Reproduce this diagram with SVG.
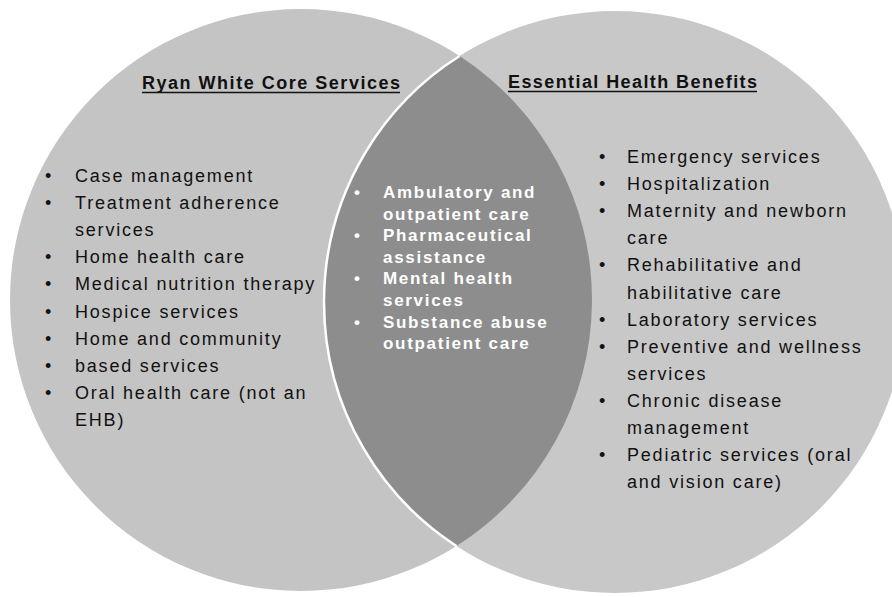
<svg xmlns="http://www.w3.org/2000/svg" width="892" height="597" viewBox="0 0 892 597">
<style>
.item{font-family:"Liberation Sans",Arial,sans-serif;font-size:18px;letter-spacing:1.8px;fill:#111}
.mid{font-family:"Liberation Sans",Arial,sans-serif;font-size:17px;font-weight:bold;letter-spacing:1.7px;fill:#fff}
.title{font-family:"Liberation Sans",Arial,sans-serif;font-size:18px;font-weight:bold;fill:#111}
.ul{stroke:#111;stroke-width:1.6}
</style>
<rect width="892" height="597" fill="#fff"/>
<g id="ryan-white">
<circle cx="301" cy="300" r="291" fill="#c4c4c4"/>
</g>
<g id="ehb">
<circle cx="615" cy="302" r="291" fill="#c8c8c8"/>
</g>
<g id="overlap">
<path d="M459.6 56 A291 291 0 0 0 456.4 546 A291 291 0 0 0 459.6 56 Z" fill="#8d8d8d"/>
<path d="M459.6 56 A291 291 0 0 0 456.4 546" fill="none" stroke="#fff" stroke-width="2.5"/>
</g>
<g id="ryan-white-text">
<text class="title" x="142" y="89" textLength="258" lengthAdjust="spacing">Ryan White Core Services</text>
<line class="ul" x1="142" y1="92.5" x2="400" y2="92.5"/>
<g class="item">
<text x="45" y="182">•</text><text x="75" y="182">Case management</text>
<text x="45" y="209.1">•</text><text x="75" y="209.1">Treatment adherence</text>
<text x="75" y="236.2">services</text>
<text x="45" y="263.3">•</text><text x="75" y="263.3">Home health care</text>
<text x="45" y="290.4">•</text><text x="75" y="290.4">Medical nutrition therapy</text>
<text x="45" y="317.5">•</text><text x="75" y="317.5">Hospice services</text>
<text x="45" y="344.6">•</text><text x="75" y="344.6">Home and community</text>
<text x="45" y="371.7">•</text><text x="75" y="371.7">based services</text>
<text x="45" y="398.8">•</text><text x="75" y="398.8">Oral health care (not an</text>
<text x="75" y="425.9">EHB)</text>
</g>
</g>
<g id="overlap-text" class="mid">
<text x="354" y="198">•</text><text x="383" y="198">Ambulatory and</text>
<text x="383" y="219.6">outpatient care</text>
<text x="354" y="241.2">•</text><text x="383" y="241.2">Pharmaceutical</text>
<text x="383" y="262.8">assistance</text>
<text x="354" y="284.4">•</text><text x="383" y="284.4">Mental health</text>
<text x="383" y="306">services</text>
<text x="354" y="327.6">•</text><text x="383" y="327.6">Substance abuse</text>
<text x="383" y="349.2">outpatient care</text>
</g>
<g id="ehb-text">
<text class="title" x="508" y="88" textLength="249" lengthAdjust="spacing">Essential Health Benefits</text>
<line class="ul" x1="508" y1="91.5" x2="757" y2="91.5"/>
<g class="item">
<text x="599" y="163">•</text><text x="627" y="163">Emergency services</text>
<text x="599" y="190.1">•</text><text x="627" y="190.1">Hospitalization</text>
<text x="599" y="217.2">•</text><text x="627" y="217.2">Maternity and newborn</text>
<text x="627" y="244.3">care</text>
<text x="599" y="271.4">•</text><text x="627" y="271.4">Rehabilitative and</text>
<text x="627" y="298.5">habilitative care</text>
<text x="599" y="325.6">•</text><text x="627" y="325.6">Laboratory services</text>
<text x="599" y="352.7">•</text><text x="627" y="352.7">Preventive and wellness</text>
<text x="627" y="379.8">services</text>
<text x="599" y="406.9">•</text><text x="627" y="406.9">Chronic disease</text>
<text x="627" y="434">management</text>
<text x="599" y="461.1">•</text><text x="627" y="461.1">Pediatric services (oral</text>
<text x="627" y="488.2">and vision care)</text>
</g>
</g>
</svg>
